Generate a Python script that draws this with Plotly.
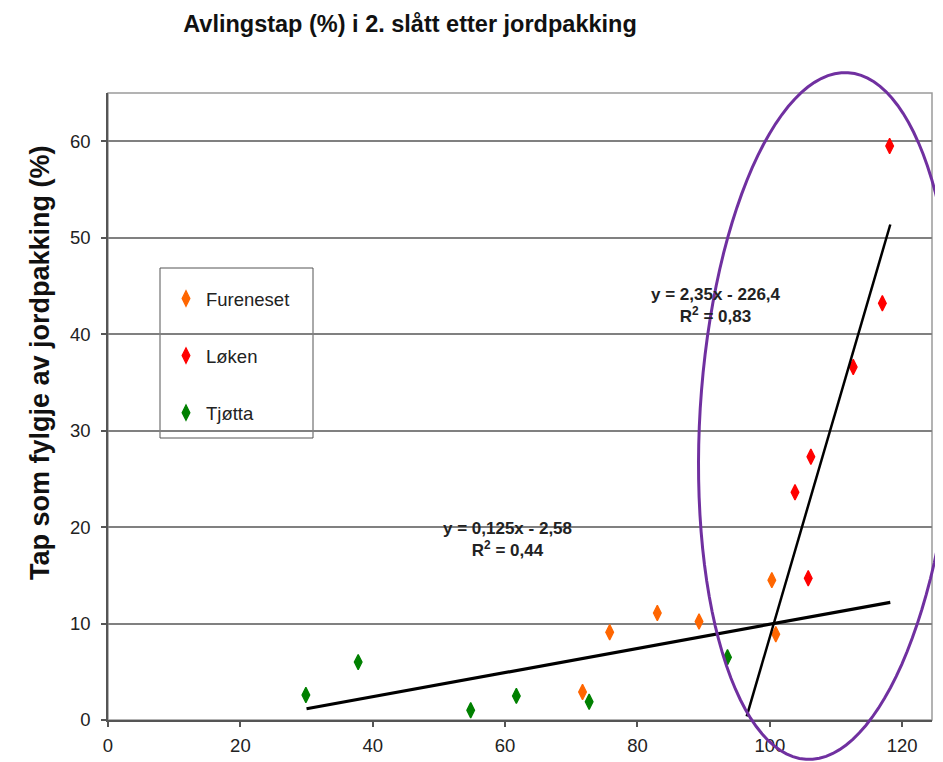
import numpy as np
import plotly.graph_objects as go

# ---- data ----
fureneset_x = [71.7, 75.8, 83.0, 89.3, 100.3, 100.9]
fureneset_y = [2.9, 9.1, 11.1, 10.2, 14.5, 8.9]
loken_x = [103.8, 105.8, 106.2, 112.6, 117.0, 118.1]
loken_y = [23.6, 14.7, 27.3, 36.6, 43.2, 59.5]
tjotta_x = [29.9, 37.8, 54.8, 61.7, 72.7, 93.6]
tjotta_y = [2.6, 6.0, 1.0, 2.5, 1.9, 6.5]

# trend lines: slope, intercept, x extent
trend_all = dict(slope=0.125, intercept=-2.58, x=[30.0, 118.2])
trend_loken = dict(slope=2.35, intercept=-226.4, x=[96.5, 118.2])

x_ticks = [0, 20, 40, 60, 80, 100, 120]
y_ticks = [0, 10, 20, 30, 40, 50, 60]

# page body has an 8px margin; figure sized so the plot lands where the reference has it
OFF = 8
W, H = 943 - OFF, 762 - OFF
PL, PR, PT, PB = 108, 932, 93, 720          # plot area in window pixels
ML, MR, MT, MB = PL - OFF, W - (PR - OFF), PT - OFF, H - (PB - OFF)

FONT = "Liberation Sans, Arial, sans-serif"

def px2paper(px, py):
    """window pixel -> paper coords"""
    return (px - PL) / (PR - PL), (PB - py) / (PB - PT)

fig = go.Figure()
mk = dict(symbol="diamond-tall", size=11)
fig.add_trace(go.Scatter(x=fureneset_x, y=fureneset_y, mode="markers", name="Fureneset",
                         legendgroup="f",
                         marker=dict(color="#FF6600", line=dict(color="#FF6600", width=1.3), **mk)))
fig.add_trace(go.Scatter(x=loken_x, y=loken_y, mode="markers", name="Løken",
                         legendgroup="l",
                         marker=dict(color="#FF0000", line=dict(color="#FF0000", width=1.3), **mk)))
fig.add_trace(go.Scatter(x=tjotta_x, y=tjotta_y, mode="markers", name="Tjøtta",
                         legendgroup="t",
                         marker=dict(color="#008000", line=dict(color="#008000", width=1.3), **mk)))

for tr, w in ((trend_all, 3.2), (trend_loken, 2.5)):
    xs = np.array(tr["x"])
    ys = tr["slope"] * xs + tr["intercept"]
    fig.add_trace(go.Scatter(x=xs, y=ys, mode="lines", showlegend=False,
                             line=dict(color="black", width=w), hoverinfo="skip"))

# ellipse (decoration) in window pixel space -> paper
cx, cy, a, b, ang = 827, 416, 344, 127, np.deg2rad(3.5)
t = np.linspace(0, 2 * np.pi, 121)
ex = cx + b * np.cos(t) * np.cos(ang) + a * np.sin(t) * np.sin(ang)
ey = cy - a * np.sin(t) * np.cos(ang) + b * np.cos(t) * np.sin(ang)
pts = [px2paper(u, v) for u, v in zip(ex, ey)]
path = "M " + " L ".join(f"{p:.5f},{q:.5f}" for p, q in pts) + " Z"

shapes = [
    dict(type="rect", xref="paper", yref="paper", x0=0, y0=0, x1=1, y1=1,
         line=dict(color="#9a9a9a", width=1.5), layer="below"),
    dict(type="path", xref="paper", yref="paper", path=path,
         line=dict(color="#7030A0", width=3)),
]
lx0, ly0 = px2paper(160, 268)
lx1, ly1 = px2paper(313, 438)
shapes.append(dict(type="rect", xref="paper", yref="paper", x0=lx0, y0=ly1, x1=lx1, y1=ly0,
                   line=dict(color="#555555", width=1), fillcolor="white", layer="below"))

ann = []
ax_, ay_ = px2paper(507, 562)
ann.append(dict(xref="paper", yref="paper", x=ax_, y=ay_, showarrow=False,
                text="<b>y = 0,125x - 2,58<br>R<sup>2</sup> = 0,44</b>",
                font=dict(family=FONT, size=17, color="#222222"), align="center"))
bx_, by_ = px2paper(783, 283)
ann.append(dict(xref="paper", yref="paper", x=bx_, y=by_, showarrow=False,
                text="<b>y = 2,35x - 226,4<br>R<sup>2</sup> = 0,83</b>",
                font=dict(family=FONT, size=17, color="#222222"), align="center"))
tx_, ty_ = px2paper(23, 363)
ann.append(dict(xref="paper", yref="paper", x=tx_, y=ty_, showarrow=False, textangle=-90,
                text="<b>Tap som fylgje av jordpakking (%)</b>",
                font=dict(family=FONT, size=27, color="#111111")))

lgx, lgy = px2paper(166, 280)
fig.update_layout(
    width=W, height=H,
    margin=dict(l=ML, r=MR, t=MT, b=MB, autoexpand=False),
    paper_bgcolor="white", plot_bgcolor="white",
    title=dict(text="<b>Avlingstap (%) i 2. slått etter jordpakking</b>",
               x=(410 - OFF) / W, xanchor="center", y=1 - (24 - OFF) / H, yanchor="middle",
               font=dict(family=FONT, size=23.5, color="#111111")),
    xaxis=dict(range=[0, 124.5], tickvals=x_ticks, ticktext=[str(v) for v in x_ticks],
               showgrid=False, zeroline=False, showline=True, linecolor="#555555", linewidth=1.5,
               ticks="outside", ticklen=5, tickcolor="#555555", tickwidth=1.5, automargin=False,
               tickfont=dict(family=FONT, size=18.5, color="#222222"), ticklabelstandoff=3),
    yaxis=dict(range=[0, 65], tickvals=y_ticks, ticktext=[str(v) for v in y_ticks],
               showgrid=True, gridcolor="#808080", gridwidth=1.5, zeroline=False,
               showline=True, linecolor="#555555", linewidth=1.5, automargin=False,
               ticks="outside", ticklen=5, tickcolor="#555555", tickwidth=1.5,
               tickfont=dict(family=FONT, size=18.5, color="#222222"), ticklabelstandoff=7),
    legend=dict(x=lgx, y=lgy, xanchor="left", yanchor="top", bgcolor="rgba(0,0,0,0)",
                borderwidth=0, tracegroupgap=30,
                font=dict(family=FONT, size=18.5, color="#222222")),
    shapes=shapes, annotations=ann, showlegend=True,
)

fig.write_html("out.html")
